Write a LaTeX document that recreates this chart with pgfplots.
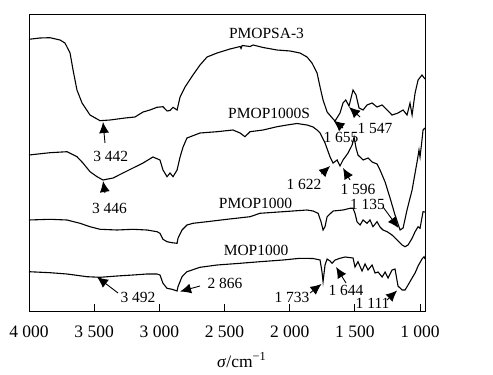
\documentclass[border=0pt]{standalone}
\usepackage{fontspec}
\setmainfont{Liberation Serif}
\usepackage{pgfplots}
\pgfplotsset{compat=1.18}
\usetikzlibrary{arrows.meta}
\pgfplotsset{crv/.style={black, line width=1.1pt, mark=none}}
\begin{document}
\begin{tikzpicture}
\begin{axis}[at={(0,0)}, anchor=south west, scale only axis,
  width=396pt, height=297pt, x dir=reverse,
  xmin=962, xmax=4000, ymin=0, ymax=297,
  xtick={1000,1500,...,4000},
  xticklabels={1\ 000,1\ 500,2\ 000,2\ 500,3\ 000,3\ 500,4\ 000},
  ymajorticks=false, major tick length=0pt, xtick pos=bottom,
  xticklabel style={font=\fontsize{17.5}{20}\selectfont, yshift=-11pt},
  axis line style={line width=0.8pt}, clip=false]
\addplot[crv] table {
4000 271.7
3916 273
3839 273.3
3762 271
3724 268
3685 258
3662 241
3632 221
3593 208
3532 196
3455 190.3
3378 191
3263 193
3187 194
3125 199
3072 201
3018 203.7
2972 204.3
2941 200
2918 200.5
2895 203.7
2864 201
2841 214
2803 224
2742 236
2688 246
2634 254
2557 258
2458 262
2380 264.5
2373 262.5
2365 265.5
2304 264.5
2281 266
2204 263.5
2097 261
1997 260
1921 258
1867 254
1829 248
1790 238
1767 224
1744 211
1713 199
1667 192
1652 190
1614 198
1591 208
1570 211
1545 205
1514 221
1491 216
1468 203
1437 201
1407 206
1368 208
1330 204
1291 206
1253 201
1215 196
1169 198
1130 201
1100 196
1077 208
1061 196
1038 218
1015 231
985 236
962 232
};
\addplot[crv] table {
4000 156
3839 158.3
3708 159.3
3632 154.3
3586 148
3532 139.3
3478 134.3
3432 131
3355 133
3279 138
3202 143
3125 148
3049 154
2995 151
2972 141
2941 134.3
2918 138
2895 134.3
2864 141
2841 154
2818 164
2788 173
2688 178
2557 179.3
2435 181
2381 178
2343 174.3
2304 179.3
2204 181
2097 184.3
2020 186
1944 187.5
1867 186
1821 184
1790 181
1767 178
1729 168
1690 154
1667 148
1636 151
1614 145
1591 151
1552 158
1521 166
1506 174
1491 163
1476 156
1437 151
1399 153
1368 149
1330 147
1307 141
1268 129
1230 113
1192 96
1153 81
1130 83
1100 101
1061 121
1023 149
1008 161
1000 154
985 171
977 181
962 183
};
\addplot[crv] table {
4000 91
3839 91.7
3708 91
3609 87.7
3532 84.3
3455 81.7
3325 81
3202 81.7
3095 81
3018 79.3
2995 77.7
2972 71.7
2941 69.3
2903 68.3
2864 67.7
2857 72.7
2826 81
2788 86
2742 87.7
2634 89.3
2481 91.7
2304 94.3
2228 97.7
2051 99.3
1867 101
1821 100
1782 97.7
1759 89
1744 81
1729 84.3
1713 94.3
1667 100
1591 101
1537 102.7
1514 102.7
1499 97.7
1483 89
1460 86
1437 91
1407 87.7
1384 91
1361 84.3
1330 89.3
1307 84
1284 81
1253 79.3
1215 76
1176 71
1138 66
1115 64.3
1092 66
1061 72.7
1038 79.3
1015 84.3
1000 82.7
977 99.3
962 99
};
\addplot[crv] table {
4000 39.3
3839 38.3
3708 37
3555 34.3
3455 33.7
3325 35
3202 36
3095 37
3018 37
2995 36
2972 27.7
2941 22.7
2903 21.7
2864 20
2857 24.3
2826 34.3
2788 39.3
2688 43.7
2557 46
2381 47.7
2228 49.3
2051 51
1921 52.7
1821 52.5
1767 51
1752 39
1744 29.3
1729 46
1713 52
1690 50
1675 47.7
1652 51
1614 52.7
1575 54
1514 53
1499 44
1476 49.3
1445 40
1422 47
1399 41
1368 46
1345 38
1322 39
1291 34
1268 39
1245 33
1215 41
1192 42
1169 25
1138 21
1115 21
1092 26
1061 33
1038 38
1015 45
985 52
969 54.3
962 52
};
\begin{scope}[every node/.style={font=\fontsize{15.5}{18}\selectfont, inner sep=0pt},
  arr/.style={-{Latex[length=11pt,width=10pt]}, line width=0.9pt}]
\node at (axis cs:2178,278) {PMOPSA-3};
\node at (axis cs:2158,198) {PMOP1000S};
\node at (axis cs:2262,108) {PMOP1000};
\node at (axis cs:2258,61) {MOP1000};
\node at (axis cs:3373,155) {3\ 442};
\draw[arr] (axis cs:3417,168) -- (axis cs:3432,189);
\node at (axis cs:3382,103) {3\ 446};
\draw[arr] (axis cs:3417,118) -- (axis cs:3432,130);
\node at (axis cs:3164,14) {3\ 492};
\draw[arr] (axis cs:3317,18) -- (axis cs:3478,34);
\node at (axis cs:2496,28) {2\ 866};
\draw[arr] (axis cs:2688,25) -- (axis cs:2841,19.5);
\node at (axis cs:1606,174) {1\ 655};
\draw[arr] (axis cs:1591,183) -- (axis cs:1664,190.5);
\node at (axis cs:1345,183) {1\ 547};
\draw[arr] (axis cs:1460,194) -- (axis cs:1545,204);
\node at (axis cs:1890,127) {1\ 622};
\draw[arr] (axis cs:1756,137) -- (axis cs:1690,145);
\node at (axis cs:1476,122) {1\ 596};
\draw[arr] (axis cs:1537,131) -- (axis cs:1591,143);
\node at (axis cs:1403,107) {1\ 135};
\draw[arr] (axis cs:1284,104) -- (axis cs:1165,83);
\node at (axis cs:1982,14) {1\ 733};
\draw[arr] (axis cs:1844,18) -- (axis cs:1756,27);
\node at (axis cs:1568,21) {1\ 644};
\draw[arr] (axis cs:1568,28) -- (axis cs:1644,44);
\node at (axis cs:1364,8) {1\ 111};
\draw[arr] (axis cs:1253,11) -- (axis cs:1176,20.5);
\end{scope}
\end{axis}
\foreach \xx in {65.17,130.33,195.5,260.66,325.83,391}
  \draw[line width=0.9pt] (\xx pt,0) -- (\xx pt,7pt);
\node[font=\fontsize{17.5}{20}\selectfont] at (212.7pt,-49pt) {\textit{σ}/cm\textsuperscript{−1}};
\useasboundingbox (-29pt,-64pt) rectangle (464pt,311pt);
\end{tikzpicture}
\end{document}
